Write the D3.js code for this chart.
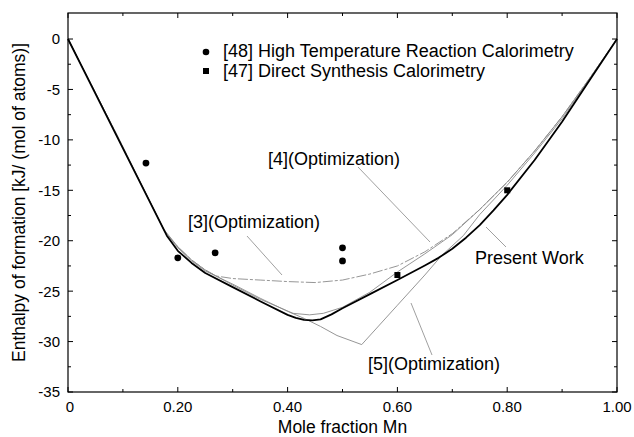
<!DOCTYPE html>
<html>
<head>
<meta charset="utf-8">
<script src="https://cdn.jsdelivr.net/npm/d3@7/dist/d3.min.js"></script>
<style>
  html, body { margin: 0; padding: 0; background: #fff; }
  svg { display: block; font-family: "Liberation Sans", Arial, sans-serif; }
</style>
</head>
<body>
<svg id="chart" width="634" height="437"></svg>
<script>
// Enthalpy of formation vs. mole fraction Mn
const xTickValues = [0, 0.2, 0.4, 0.6, 0.8, 1.0];
const xTickLabels = ["0", "0.20", "0.40", "0.60", "0.80", "1.00"];
const yTickValues = [0, -5, -10, -15, -20, -25, -30, -35];
const yTickLabels = ["0", "-5", "-10", "-15", "-20", "-25", "-30", "-35"];

// Present Work (thick black)
const presentX = [0, 0.09, 0.18, 0.20, 0.225, 0.25, 0.30, 0.35, 0.40, 0.415, 0.43, 0.445, 0.46, 0.48, 0.50, 0.55, 0.60, 0.65, 0.675, 0.70, 0.725, 0.75, 0.775, 0.80, 0.85, 0.90, 0.95, 1.0];
const presentY = [0, -9.75, -19.5, -21.0, -22.2, -23.2, -24.6, -26.0, -27.35, -27.65, -27.85, -27.9, -27.8, -27.3, -26.7, -25.3, -23.9, -22.45, -21.7, -20.8, -19.7, -18.45, -17.0, -15.45, -12.0, -8.2, -4.1, 0];

// [3] optimization (dash-dot gray)
const opt3X = [0, 0.09, 0.175, 0.20, 0.225, 0.25, 0.27, 0.30, 0.35, 0.40, 0.45, 0.50, 0.55, 0.60, 0.65, 0.70, 0.75, 0.80, 0.85, 0.90, 0.95, 1.0];
const opt3Y = [0, -9.6, -19.0, -20.6, -21.9, -22.9, -23.5, -23.75, -23.9, -24.05, -24.15, -23.9, -23.3, -22.5, -21.1, -19.3, -16.9, -14.2, -11.1, -7.7, -3.9, 0];

// [4] optimization (thin gray)
const opt4X = [0, 0.09, 0.175, 0.20, 0.225, 0.25, 0.30, 0.35, 0.41, 0.44, 0.465, 0.50, 0.55, 0.60, 0.65, 0.70, 0.75, 0.80, 0.85, 0.90, 0.95, 1.0];
const opt4Y = [0, -9.6, -18.9, -20.6, -21.9, -22.9, -24.4, -25.8, -27.2, -27.35, -27.2, -26.6, -25.1, -23.1, -21.3, -19.4, -16.9, -14.2, -11.1, -7.7, -3.9, 0];

// [5] optimization (thin gray)
const opt5X = [0, 0.09, 0.178, 0.20, 0.225, 0.25, 0.30, 0.35, 0.40, 0.43, 0.46, 0.49, 0.535, 0.60, 0.65, 0.68, 0.72, 0.75, 0.80, 0.85, 0.90, 0.95, 1.0];
const opt5Y = [0, -9.7, -19.2, -20.7, -22.0, -23.0, -24.3, -25.7, -27.0, -27.7, -28.5, -29.4, -30.3, -26.4, -23.4, -21.5, -19.5, -17.4, -14.5, -11.3, -7.9, -4.0, 0];

// [48] High Temperature Reaction Calorimetry
const calX = [0.142, 0.20, 0.268, 0.50, 0.50];
const calY = [-12.3, -21.7, -21.2, -20.7, -22.0];

// [47] Direct Synthesis Calorimetry
const synX = [0.60, 0.80];
const synY = [-23.4, -15.0];

const svg = d3.select("#chart");
const margin = { left: 68, top: 13, right: 17, bottom: 45 };
const W = 634, H = 437;
const x = d3.scaleLinear().domain([0, 1]).range([margin.left, W - margin.right]);
const y = d3.scaleLinear().domain([-35, 2.58]).range([H - margin.bottom, margin.top]);

const x0 = x(0), x1 = x(1), yTop = y(2.58), yBot = y(-35);

// inward ticks on all four sides
const minorX = d3.range(0, 1.0001, 0.1);
const minorY = d3.range(0, -35.001, -2.5);
const isMajorX = v => Math.abs(v * 5 - Math.round(v * 5)) < 1e-6;
const isMajorY = v => Math.abs(v / 5 - Math.round(v / 5)) < 1e-6;

const axisG = svg.append("g").attr("stroke", "#000").attr("stroke-width", 1);
minorX.forEach(v => {
  const len = isMajorX(v) ? 5 : 3;
  axisG.append("line").attr("x1", x(v)).attr("x2", x(v)).attr("y1", yBot).attr("y2", yBot - len);
  axisG.append("line").attr("x1", x(v)).attr("x2", x(v)).attr("y1", yTop).attr("y2", yTop + len);
});
minorY.forEach(v => {
  const len = isMajorY(v) ? 5 : 3;
  axisG.append("line").attr("x1", x0).attr("x2", x0 + len).attr("y1", y(v)).attr("y2", y(v));
  axisG.append("line").attr("x1", x1).attr("x2", x1 - len).attr("y1", y(v)).attr("y2", y(v));
});

// tick labels
const tickFont = 15;
svg.append("g").selectAll("text").data(xTickValues).join("text")
  .attr("x", d => x(d) + (d === 0 ? 2 : 0))
  .attr("y", yBot + 19.5)
  .attr("text-anchor", "middle")
  .attr("font-size", tickFont)
  .text((d, i) => xTickLabels[i]);

svg.append("g").selectAll("text").data(yTickValues).join("text")
  .attr("x", x0 - 8)
  .attr("y", d => y(d))
  .attr("dy", "0.36em")
  .attr("text-anchor", "end")
  .attr("font-size", tickFont)
  .text((d, i) => yTickLabels[i]);

// axis titles
svg.append("text")
  .attr("x", (x0 + x1) / 2).attr("y", 433)
  .attr("text-anchor", "middle").attr("font-size", 17.5)
  .text("Mole fraction Mn");

svg.append("text")
  .attr("transform", `translate(25,${(yTop + yBot) / 2}) rotate(-90)`)
  .attr("text-anchor", "middle").attr("font-size", 17.5)
  .text("Enthalpy of formation [kJ/ (mol of atoms)]");

// curves
const line = d3.line().x(d => x(d[0])).y(d => y(d[1])).curve(d3.curveLinear);
const zip = (a, b) => a.map((v, i) => [v, b[i]]);

const curves = svg.append("g").attr("fill", "none").attr("stroke-linejoin", "round");
curves.append("path").datum(zip(opt4X, opt4Y))
  .attr("d", line)
  .attr("stroke", "#8a8a8a").attr("stroke-width", 0.9);
curves.append("path").datum(zip(opt5X, opt5Y))
  .attr("d", line)
  .attr("stroke", "#8a8a8a").attr("stroke-width", 0.9);
curves.append("path").datum(zip(opt3X, opt3Y))
  .attr("d", line)
  .attr("stroke", "#8a8a8a").attr("stroke-width", 0.9)
  .attr("stroke-dasharray", "10,2,3,2");
curves.append("path").datum(zip(presentX, presentY))
  .attr("d", line)
  .attr("stroke", "#000").attr("stroke-width", 1.8);

// frame
svg.append("rect")
  .attr("x", x0).attr("y", yTop).attr("width", x1 - x0).attr("height", yBot - yTop)
  .attr("fill", "none").attr("stroke", "#000").attr("stroke-width", 1.2);

// experimental points
svg.append("g").selectAll("circle").data(zip(calX, calY)).join("circle")
  .attr("cx", d => x(d[0])).attr("cy", d => y(d[1])).attr("r", 3.4).attr("fill", "#000");
svg.append("g").selectAll("rect").data(zip(synX, synY)).join("rect")
  .attr("x", d => x(d[0]) - 3).attr("y", d => y(d[1]) - 3)
  .attr("width", 6).attr("height", 6).attr("fill", "#000");

// legend
const legend = svg.append("g").attr("font-size", 18);
legend.append("circle").attr("cx", 206).attr("cy", 52).attr("r", 3.3).attr("fill", "#000");
legend.append("rect").attr("x", 203).attr("y", 68).attr("width", 6).attr("height", 6).attr("fill", "#000");
legend.append("text").attr("x", 223).attr("y", 57).text("[48] High Temperature Reaction Calorimetry");
legend.append("text").attr("x", 223).attr("y", 77).text("[47] Direct Synthesis Calorimetry");

// annotation labels with leader lines
const notes = [
  { text: "[3](Optimization)", tx: 188, ty: 228, lx1: 247, ly1: 236, lx2: 282, ly2: 275 },
  { text: "[4](Optimization)", tx: 268, ty: 165, lx1: 358, ly1: 167, lx2: 430, ly2: 242 },
  { text: "Present Work", tx: 475, ty: 264, lx1: 486, ly1: 227, lx2: 506, ly2: 247 },
  { text: "[5](Optimization)", tx: 368, ty: 370, lx1: 432, ly1: 355, lx2: 411, ly2: 303 }
];
const ann = svg.append("g");
notes.forEach(n => {
  ann.append("line").attr("x1", n.lx1).attr("y1", n.ly1).attr("x2", n.lx2).attr("y2", n.ly2)
    .attr("stroke", "#888").attr("stroke-width", 0.8);
  ann.append("text").attr("x", n.tx).attr("y", n.ty).attr("font-size", 18).text(n.text);
});
</script>
</body>
</html>
